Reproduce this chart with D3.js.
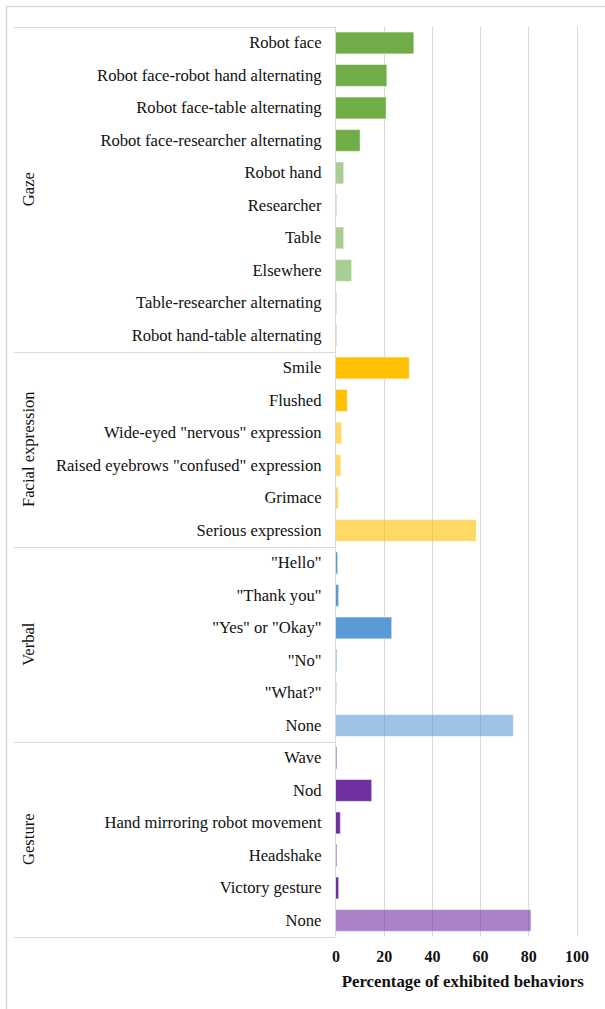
<!DOCTYPE html>
<html>
<head>
<meta charset="utf-8">
<script src="https://cdn.jsdelivr.net/npm/d3@7/dist/d3.min.js"></script>
<style>
  html, body { margin: 0; padding: 0; background: #fff; }
  svg { display: block; }
  svg text { font-family: "Liberation Serif", "Times New Roman", serif !important; fill: #111; }
</style>
</head>
<body>
<svg id="chart" width="605" height="1009"></svg>
<script>
// ---- data ----
const groups = ["Gaze", "Facial expression", "Verbal", "Gesture"];
const gazeCategories = ["Robot face", "Robot face-robot hand alternating", "Robot face-table alternating",
  "Robot face-researcher alternating", "Robot hand", "Researcher", "Table", "Elsewhere",
  "Table-researcher alternating", "Robot hand-table alternating"];
const gazeValues = [32.5, 21.3, 21.0, 10.2, 3.4, 0.5, 3.4, 6.7, 0.5, 0.5];
const facialCategories = ["Smile", "Flushed", "Wide-eyed \"nervous\" expression",
  "Raised eyebrows \"confused\" expression", "Grimace", "Serious expression"];
const facialValues = [30.6, 4.9, 2.6, 2.2, 1.2, 58.4];
const verbalCategories = ["\"Hello\"", "\"Thank you\"", "\"Yes\" or \"Okay\"", "\"No\"", "\"What?\"", "None"];
const verbalValues = [0.9, 1.3, 23.3, 0.5, 0.5, 73.8];
const gestureCategories = ["Wave", "Nod", "Hand mirroring robot movement", "Headshake", "Victory gesture", "None"];
const gestureValues = [0.5, 15.0, 2.0, 0.5, 1.3, 81.1];
const xTicks = [0, 20, 40, 60, 80, 100];
const xTitle = "Percentage of exhibited  behaviors";

// ---- styles ----
const groupColors = {"Gaze": "#70ad47", "Facial expression": "#ffc000", "Verbal": "#5b9bd5", "Gesture": "#7030a0"};
const lightStart = {"Gaze": 4, "Facial expression": 2, "Verbal": 4, "Gesture": 5};
const labelFont = "16.6px";

const groupData = [
  [groups[0], gazeCategories, gazeValues],
  [groups[1], facialCategories, facialValues],
  [groups[2], verbalCategories, verbalValues],
  [groups[3], gestureCategories, gestureValues]
];
const rows = [];
groupData.forEach(([g, cats, vals]) => {
  cats.forEach((c, i) => rows.push({group: g, label: c, value: vals[i], idx: i, key: g + "|" + c}));
});

const svg = d3.select("#chart");
const plotTop = 26.7, plotBottom = 936.7;
const x = d3.scaleLinear().domain([0, 100]).range([335.5, 576.5]);
const y = d3.scaleBand().domain(rows.map(r => r.key)).range([plotTop, plotBottom])
  .paddingInner(0.33).paddingOuter(0.165);

// outer border
svg.append("rect").attr("x", 6.5).attr("y", 6.5).attr("width", 640).attr("height", 1040)
  .attr("fill", "none").attr("stroke", "#d9d9d9").attr("stroke-width", 1.5);

// gridlines
svg.append("g").selectAll("line").data(xTicks.slice(1)).join("line")
  .attr("x1", d => Math.round(x(d)) + 0.5).attr("x2", d => Math.round(x(d)) + 0.5)
  .attr("y1", plotTop).attr("y2", plotBottom)
  .attr("stroke", "#d9d9d9").attr("stroke-width", 1);

// bars
svg.append("g").selectAll("rect").data(rows).join("rect")
  .attr("x", x(0))
  .attr("y", d => y(d.key))
  .attr("width", d => x(d.value) - x(0))
  .attr("height", y.bandwidth())
  .attr("fill", d => groupColors[d.group])
  .attr("fill-opacity", d => d.idx >= lightStart[d.group] ? 0.6 : 1)
  .attr("stroke", "#ffffff").attr("stroke-opacity", 0.45).attr("stroke-width", 1);

// category axis line
svg.append("line").attr("x1", 335.5).attr("x2", 335.5).attr("y1", plotTop).attr("y2", plotBottom)
  .attr("stroke", "#d9d9d9").attr("stroke-width", 1);

// category labels via axis
const yAxis = d3.axisLeft(y).tickSize(0).tickPadding(14).tickFormat(k => k.split("|")[1]);
const yg = svg.append("g").attr("transform", "translate(335.5,0)").call(yAxis);
yg.select(".domain").remove();
yg.attr("font-family", null).attr("font-size", null);
yg.selectAll("text").style("font-size", labelFont).style("fill", "#111");

// group separators & group labels
let start = 0;
const bounds = [];
groupData.forEach(([g, cats]) => {
  const top = y(rows[start].key) - y.step() * y.paddingInner() / 2;
  const endRow = rows[start + cats.length - 1];
  const bottom = y(endRow.key) + y.bandwidth() + y.step() * y.paddingInner() / 2;
  bounds.push({g, top, bottom});
  start += cats.length;
});
const sepYs = [plotTop, ...bounds.map(b => b.bottom)];
svg.append("g").selectAll("line").data(sepYs).join("line")
  .attr("x1", 14).attr("x2", 335.5)
  .attr("y1", d => Math.round(d) + 0.5).attr("y2", d => Math.round(d) + 0.5)
  .attr("stroke", "#d9d9d9").attr("stroke-width", 1);

svg.append("g").selectAll("text").data(bounds).join("text")
  .attr("transform", d => `translate(33.5,${(d.top + d.bottom) / 2}) rotate(-90)`)
  .attr("text-anchor", "middle")
  .style("font-size", labelFont)
  .text(d => d.g);

// x axis ticks
const xAxis = d3.axisBottom(x).tickValues(xTicks).tickSize(0).tickPadding(0);
const xg = svg.append("g").attr("transform", "translate(0,951)").call(xAxis);
xg.select(".domain").remove();
xg.attr("font-family", null).attr("font-size", null);
xg.selectAll("text").style("font-size", "16px")
  .style("font-weight", "bold").style("fill", "#111").attr("dy", "0.71em");

// x title
svg.append("text").attr("x", 462.7).attr("y", 987).attr("text-anchor", "middle")
  .style("font-size", "16px").style("font-weight", "bold")
  .attr("textLength", 242).attr("lengthAdjust", "spacingAndGlyphs")
  .text(xTitle);
</script>
</body>
</html>
